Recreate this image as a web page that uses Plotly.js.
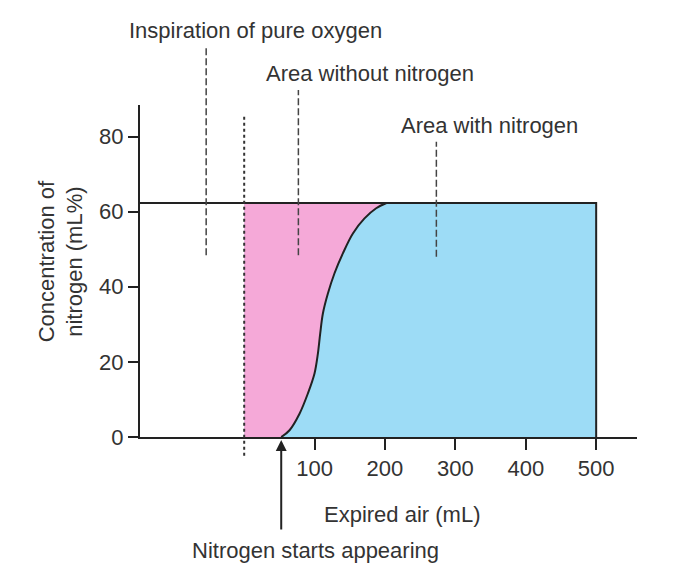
<!DOCTYPE html>
<html>
<head>
<meta charset="utf-8">
<script src="https://cdn.plot.ly/plotly-3.0.1.min.js"></script>
<style>html,body{margin:0;padding:0;background:#fff;}#chart{width:683px;height:581px;}</style>
</head>
<body>
<div id="chart"></div>
<script>
// ---- data ----
const xTickVals = [100, 200, 300, 400, 500];
const yTickVals = [0, 20, 40, 60, 80];
const xRange = [-148, 558];
const yRange = [0, 88.4];
const plateau = 62.3;          // nitrogen concentration plateau (mL%)
const endVolume = 500;         // end of expiration (mL)
const curveX = [52.6, 64.4, 78.6, 90.5, 99.9, 104.7, 108, 111.8, 118.9, 128.3, 140.2, 154.4, 170.9, 187.5, 202];
const curveY = [0, 1.8, 6.2, 11.6, 16.9, 22.2, 27.6, 32.9, 38.2, 43.6, 48.9, 54.2, 58.2, 60.9, 62.3];
const oxygenMarkX = 0;         // dotted line: inspiration of pure O2
const dottedY = [-5, 85.8];
const labelTexts = ['Inspiration of pure oxygen', 'Area without nitrogen', 'Area with nitrogen'];
const leaderX = [-54, 77, 273];
const leaderYBottom = [48.4, 48.4, 48];
const leaderYTop = [103.6, 92.4, 78.6];
const startX = curveX[0];

const toPaperY = v => (v - yRange[0]) / (yRange[1] - yRange[0]);
const ink = '#222';
const txt = '#333';
const fam = 'Liberation Sans, Arial, sans-serif';
const fs = 22;

const traces = [
  { // area with nitrogen (blue)
    x: [oxygenMarkX, endVolume], y: [plateau, plateau], type: 'scatter', mode: 'lines',
    fill: 'tozeroy', fillcolor: '#9ddcf6', line: {width: 0}, hoverinfo: 'skip'
  },
  { // area without nitrogen (pink) bounded by curve
    x: curveX, y: curveY, type: 'scatter', mode: 'lines',
    fill: 'tozerox', fillcolor: '#f5a9d8',
    line: {color: ink, width: 2, shape: 'spline', smoothing: 1}, hoverinfo: 'skip'
  },
  { // plateau line and end edge
    x: [xRange[0], endVolume, endVolume], y: [plateau, plateau, 0], type: 'scatter', mode: 'lines',
    line: {color: ink, width: 2}, hoverinfo: 'skip'
  }
];

const shapes = [
  {type: 'line', xref: 'x', yref: 'paper', x0: oxygenMarkX, x1: oxygenMarkX,
   y0: toPaperY(dottedY[0]), y1: toPaperY(dottedY[1]), line: {color: txt, width: 2, dash: 'dot'}}
];
leaderX.forEach((lx, i) => {
  shapes.push({type: 'line', xref: 'x', yref: 'paper', x0: lx, x1: lx,
    y0: toPaperY(leaderYBottom[i]), y1: toPaperY(leaderYTop[i]),
    line: {color: '#444', width: 1.5, dash: '7px,3px'}});
});

const af = {family: fam, size: fs, color: txt};
const annotations = [
  {xref: 'paper', yref: 'paper', x: 0.2334, y: 1.223, text: labelTexts[0], showarrow: false, font: af, xanchor: 'center', yanchor: 'middle'},
  {xref: 'paper', yref: 'paper', x: 0.4628, y: 1.0935, text: labelTexts[1], showarrow: false, font: af, xanchor: 'center', yanchor: 'middle'},
  {xref: 'paper', yref: 'paper', x: 0.7042, y: 0.9397, text: labelTexts[2], showarrow: false, font: af, xanchor: 'center', yanchor: 'middle'},
  {xref: 'paper', yref: 'paper', x: 0.527, y: -0.232, text: 'Expired air (mL)', showarrow: false, font: af, xanchor: 'center', yanchor: 'middle'},
  {xref: 'paper', yref: 'paper', x: 0.354, y: -0.342, text: 'Nitrogen starts appearing', showarrow: false, font: af, xanchor: 'center', yanchor: 'middle'},
  {xref: 'paper', yref: 'paper', x: -0.159, y: 0.529, text: 'Concentration of<br>nitrogen (mL%)', textangle: -90, showarrow: false, font: af, xanchor: 'center', yanchor: 'middle'},
  {xref: 'x', yref: 'y', x: startX, y: 0, text: '', showarrow: true, arrowhead: 2, arrowsize: 1.1, arrowwidth: 2,
   arrowcolor: ink, ax: 0, ay: 94, standoff: 3}
];

const axisCommon = {
  showline: true, linewidth: 2, linecolor: ink, ticks: 'outside', ticklen: 10, tickwidth: 2,
  tickcolor: ink, showgrid: false, zeroline: false, tickfont: {family: fam, size: fs, color: txt},
  fixedrange: true
};

const layout = {
  width: 683, height: 581,
  margin: {l: 140, r: 46, t: 105, b: 144},
  paper_bgcolor: '#fff', plot_bgcolor: '#fff',
  showlegend: false,
  xaxis: Object.assign({}, axisCommon, {range: xRange, tickmode: 'array', tickvals: xTickVals, ticklen: 11}),
  yaxis: Object.assign({}, axisCommon, {range: yRange, tickmode: 'array', tickvals: yTickVals}),
  shapes: shapes,
  annotations: annotations
};

Plotly.newPlot('chart', traces, layout, {displayModeBar: false, staticPlot: true});
</script>
</body>
</html>
